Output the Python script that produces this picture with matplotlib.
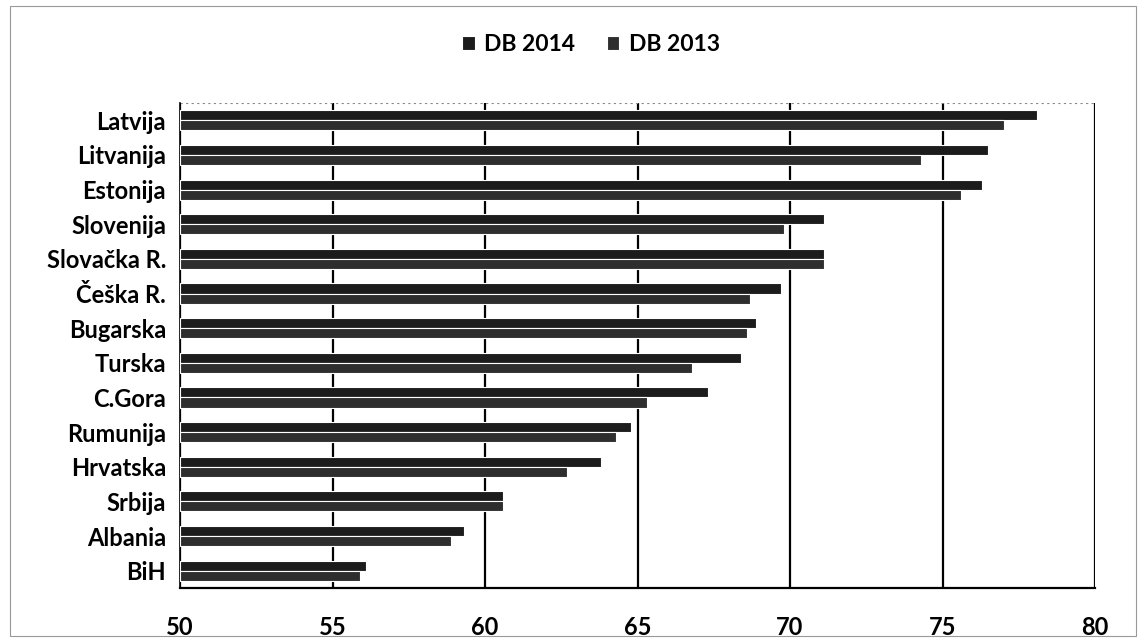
import matplotlib.pyplot as plt
import numpy as np
from matplotlib.patches import Rectangle

countries = [
    "Latvija", "Litvanija", "Estonija", "Slovenija", "Slovačka R.", "Češka R.",
    "Bugarska", "Turska", "C.Gora", "Rumunija", "Hrvatska", "Srbija", "Albania", "BiH",
]
db_2014 = [78.1, 76.5, 76.3, 71.1, 71.1, 69.7, 68.9, 68.4, 67.3, 64.8, 63.8, 60.6, 59.3, 56.1]
db_2013 = [77.0, 74.3, 75.6, 69.8, 71.1, 68.7, 68.6, 66.8, 65.3, 64.3, 62.7, 60.6, 58.9, 55.9]
x_ticks = [50, 55, 60, 65, 70, 75, 80]
x_labels = ["50", "55", "60", "65", "70", "75", "80"]

plt.rcParams["font.family"] = ["Lato", "DejaVu Sans"]
plt.rcParams["font.weight"] = "bold"

fig = plt.figure(figsize=(11.43, 6.39), dpi=100)
ax = fig.add_axes([180 / 1143, 1 - 588 / 639, (1095 - 180) / 1143, (588 - 103) / 639])

y = np.arange(len(countries))
h = 0.29
ax.barh(y - h / 2, np.array(db_2014) - 50, height=h, left=50, color="#1c1c1c",
        edgecolor="white", linewidth=0.8, label="DB 2014", zorder=3)
ax.barh(y + h / 2, np.array(db_2013) - 50, height=h, left=50, color="#2e2e2e",
        edgecolor="white", linewidth=0.8, label="DB 2013", zorder=3)

ax.set_xlim(50, 80)
ax.set_ylim(len(countries) - 0.5, -0.5)
ax.set_xticks(x_ticks)
ax.set_xticklabels(x_labels, fontsize=17)
ax.set_yticks(y)
ax.set_yticklabels(countries, fontsize=17)
ax.tick_params(axis="both", length=0, colors="black")
ax.tick_params(axis="x", pad=20)
ax.tick_params(axis="y", pad=10)

ax.grid(axis="x", color="black", linewidth=1.6, zorder=1)
for side in ["top", "right"]:
    ax.spines[side].set_visible(False)
ax.spines["left"].set_linewidth(1.2)
ax.spines["bottom"].set_linewidth(1.6)
ax.axhline(-0.5, color="#888888", linewidth=0.8, linestyle=(0, (2, 3)), zorder=2)

ax.legend(loc="center", bbox_to_anchor=(0.449, 1.12), ncol=2, frameon=False,
          fontsize=16.5, handlelength=0.55, handleheight=0.55, columnspacing=1.4,
          handletextpad=0.4)

fig.patches.append(Rectangle((0.009, 0.005), 0.985, 0.985, transform=fig.transFigure,
                             fill=False, edgecolor="#999999", linewidth=0.8))

fig.savefig("out.png", dpi=100)
